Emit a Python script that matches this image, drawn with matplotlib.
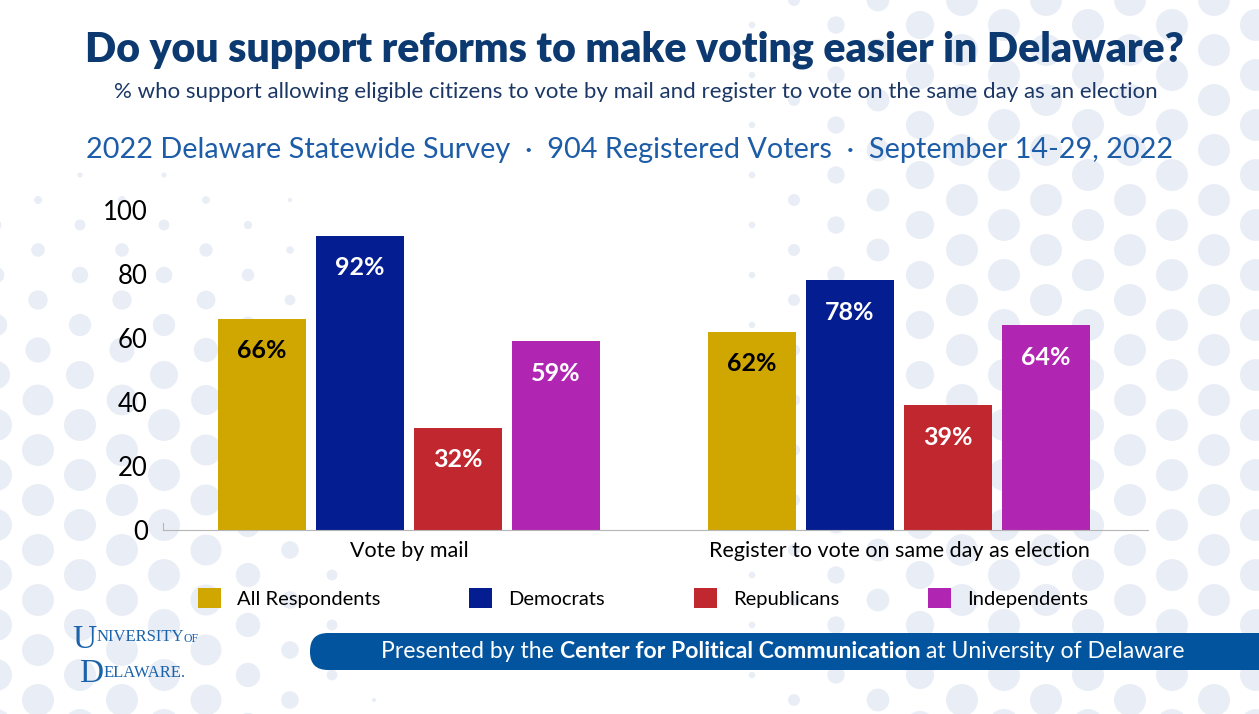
import matplotlib
matplotlib.use('Agg')
import matplotlib.pyplot as plt
from matplotlib.patches import Patch, FancyBboxPatch
import numpy as np

categories = ['Vote by mail', 'Register to vote on same day as election']
groups = ['All Respondents', 'Democrats', 'Republicans', 'Independents']
values = {
    'All Respondents': [66, 62],
    'Democrats': [92, 78],
    'Republicans': [32, 39],
    'Independents': [59, 64],
}
colors = ['#d0a700', '#041d91', '#c1272f', '#b026b2']
label_colors = ['black', 'white', 'white', 'white']
yticks = [0, 20, 40, 60, 80, 100]

title = 'Do you support reforms to make voting easier in Delaware?'
subtitle = '% who support allowing eligible citizens to vote by mail and register to vote on the same day as an election'
survey = '2022 Delaware Statewide Survey  \u00b7  904 Registered Voters  \u00b7  September 14-29, 2022'

W, H = 1259, 714
fig = plt.figure(figsize=(W / 100, H / 100), dpi=100, facecolor='white')

# background: dots + banner + titles, in pixel coords
bg = fig.add_axes([0, 0, 1, 1], zorder=0)
bg.set_xlim(0, W)
bg.set_ylim(H, 0)
bg.axis('off')

dx, dy = 42, 50
xs, ys, rs = [], [], []
for j, cx in enumerate(np.arange(-4, W + 40, dx)):
    for cy in np.arange(-25 + (j % 2) * 25, H + 40, dy):
        r_right = 16 * np.clip((cx - 700) / 250, 0, 1)
        r_left = 16 * np.clip((cy - 130) / 280, 0, 1) * np.clip((400 - cx) / 200, 0, 1)
        r = max(r_right, r_left)
        if r > 2:
            xs.append(cx)
            ys.append(cy)
            rs.append(r)
bg.scatter(xs, ys, s=(2 * np.array(rs) * 0.72) ** 2, color='#e9eef6', linewidths=0)

bg.text(W / 2 + 5, 50, title, ha='center', va='center', fontsize=29.5, fontweight='heavy',
        family='Lato', color='#0c3a70')
bg.text(W / 2 + 6, 92, subtitle, ha='center', va='center', fontsize=16,
        family='Lato', color='#1b3766')
bg.text(W / 2, 150, survey, ha='center', va='center', fontsize=20.8,
        family='Lato', color='#1d5ca6')

banner = FancyBboxPatch((310, 633), 1000, 37, boxstyle='round,pad=0,rounding_size=18',
                        facecolor='#02549f', edgecolor='none')
bg.add_patch(banner)
t1 = bg.text(381, 651, 'Presented by the ', ha='left', va='center', fontsize=16.6,
             family='Lato', color='white')
t2 = bg.annotate('Center for Political Communication', xy=(1, 0), xycoords=t1,
                 ha='left', va='bottom', fontsize=16.6, family='Lato', fontweight='bold', color='white')
t3 = bg.annotate(' at University of Delaware', xy=(1, 0), xycoords=t2,
                 ha='left', va='bottom', fontsize=16.6, family='Lato', color='white')

# logo
logo_c = '#1a62aa'
u = bg.text(72, 624, 'U', ha='left', va='top', fontsize=24, family='Liberation Serif', color=logo_c)
nv = bg.annotate('NIVERSITY', xy=(1, 0.3), xycoords=u, ha='left', va='bottom', fontsize=12,
                 family='Liberation Serif', color=logo_c)
bg.annotate('OF', xy=(1, 0), xycoords=nv, ha='left', va='bottom', fontsize=8.5,
            family='Liberation Serif', color=logo_c)
d = bg.text(79, 658, 'D', ha='left', va='top', fontsize=24, family='Liberation Serif', color=logo_c)
bg.annotate('ELAWARE.', xy=(1, 0.25), xycoords=d, ha='left', va='bottom', fontsize=12,
            family='Liberation Serif', color=logo_c)

# main chart
ax = fig.add_axes([163 / W, 184 / H, (1148 - 163) / W, 320 / H], zorder=1)
ax.set_facecolor('none')
x = np.arange(len(categories))
step, width = 0.2, 0.18
for i, g in enumerate(groups):
    pos = x + (i - 1.5) * step
    ax.bar(pos, values[g], width=width, color=colors[i], zorder=2)
    for p, v in zip(pos, values[g]):
        ax.text(p, v - 10, f'{v}%', ha='center', va='center', fontsize=18,
                fontweight='bold', family='Lato', color=label_colors[i], zorder=3)

ax.set_xlim(-0.502, 1.508)
ax.set_ylim(0, 100)
ax.set_yticks(yticks)
ax.set_yticklabels([str(t) for t in yticks], fontsize=18.5, family='Lato')
ax.tick_params(axis='y', length=0, pad=11)
ax.set_xticks(x)
ax.set_xticklabels(categories, fontsize=15.5, family='Lato')
ax.tick_params(axis='x', length=0, pad=8)
for s in ['top', 'right']:
    ax.spines[s].set_visible(False)
ax.spines['bottom'].set_color('#b5b5b5')
ax.spines['left'].set_color('#b5b5b5')
ax.spines['left'].set_bounds(0, 2.2)

handles = [Patch(facecolor=c, edgecolor='none') for c in colors]
fig.legend(handles, groups, loc='center', bbox_to_anchor=(643 / W, 1 - 598 / H), ncol=4,
           frameon=False, prop={'family': 'Lato', 'size': 14.5},
           handlelength=1.15, handleheight=1.15, handletextpad=0.8, columnspacing=4.4)

fig.savefig('out.png', dpi=100, facecolor='white')
